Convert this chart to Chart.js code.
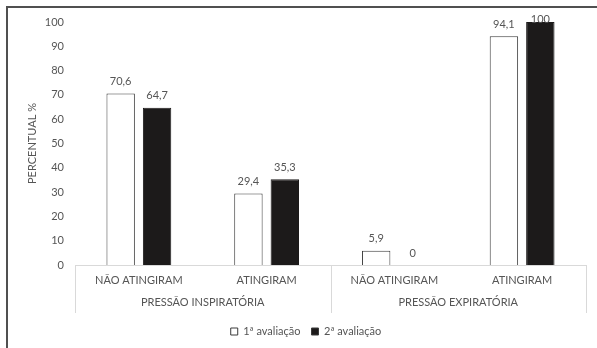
<!DOCTYPE html>
<html>
<head>
<meta charset="utf-8">
<script src="https://cdn.jsdelivr.net/npm/chart.js@4/dist/chart.umd.min.js"></script>
<style>
  html, body { margin: 0; padding: 0; background: #fff; }
  #wrap { width: 597px; height: 348px; position: relative; }
</style>
</head>
<body>
<div id="wrap"><canvas id="c" width="597" height="348"></canvas></div>
<script>
// Outcome categories, grouped by respiratory pressure measure
const categories = ['NÃO ATINGIRAM', 'ATINGIRAM', 'NÃO ATINGIRAM', 'ATINGIRAM'];
const groups = ['PRESSÃO INSPIRATÓRIA', 'PRESSÃO EXPIRATÓRIA'];
const seriesNames = ['1ª avaliação', '2ª avaliação'];
const firstEval = [70.6, 29.4, 5.9, 94.1];
const secondEval = [64.7, 35.3, 0, 100];
const yTicks = [0, 10, 20, 30, 40, 50, 60, 70, 80, 90, 100];

const TEXT = '#555555';
const FONT = 'Lato, "Liberation Sans", sans-serif';
const AXIS_LINE = '#d9d9d9';

const fmt = v => String(v).replace('.', ',');

// Frame, value labels and the two-level category box
const decorations = {
  id: 'decorations',
  beforeDraw(chart) {
    const ctx = chart.ctx;
    ctx.save();
    ctx.fillStyle = '#fff';
    ctx.fillRect(0, 0, chart.width, chart.height);
    ctx.strokeStyle = '#505050';
    ctx.lineWidth = 2;
    ctx.beginPath();
    ctx.moveTo(7, chart.height);
    ctx.lineTo(7, 7);
    ctx.lineTo(chart.width, 7);
    ctx.stroke();
    ctx.restore();
  },
  afterDraw(chart) {
    const ctx = chart.ctx;
    const x = chart.scales.x;
    const area = chart.chartArea;
    ctx.save();
    // value labels
    ctx.font = '11px ' + FONT;
    ctx.fillStyle = TEXT;
    ctx.textAlign = 'center';
    ctx.textBaseline = 'middle';
    chart.data.datasets.forEach((ds, di) => {
      chart.getDatasetMeta(di).data.forEach((bar, i) => {
        const y = Math.max(bar.y - 12, area.top - 3);
        ctx.fillText(fmt(ds.data[i]), bar.x, y);
      });
    });
    // category box separators
    const half = (x.getPixelForValue(1) - x.getPixelForValue(0)) / 2;
    const boxBottom = area.bottom + 48;
    ctx.strokeStyle = AXIS_LINE;
    ctx.lineWidth = 1;
    const seps = [x.getPixelForValue(0) - half, x.getPixelForValue(2) - half, x.getPixelForValue(3) + half];
    seps.forEach(px => {
      const p = Math.round(px) + 0.5;
      ctx.beginPath();
      ctx.moveTo(p, area.bottom);
      ctx.lineTo(p, boxBottom);
      ctx.stroke();
    });
    // group labels
    ctx.fillStyle = TEXT;
    groups.forEach((g, gi) => {
      const cx = (x.getPixelForValue(gi * 2) + x.getPixelForValue(gi * 2 + 1)) / 2;
      ctx.fillText(g, cx, area.bottom + 37);
    });
    ctx.restore();
  }
};

new Chart(document.getElementById('c'), {
  type: 'bar',
  data: {
    labels: categories,
    datasets: [
      {
        label: seriesNames[0],
        data: firstEval,
        backgroundColor: '#ffffff',
        borderColor: '#3a3a3a',
        borderWidth: 1,
        categoryPercentage: 0.57,
        barPercentage: 0.78
      },
      {
        label: seriesNames[1],
        data: secondEval,
        backgroundColor: '#1c1a1a',
        borderColor: '#1c1a1a',
        borderWidth: 1,
        categoryPercentage: 0.57,
        barPercentage: 0.78
      }
    ]
  },
  options: {
    responsive: false,
    animation: false,
    devicePixelRatio: 1,
    layout: { padding: { left: 26, right: 11, top: 22, bottom: 1 } },
    plugins: {
      tooltip: { enabled: false },
      legend: {
        position: 'bottom',
        labels: {
          color: TEXT,
          font: { family: FONT, size: 11 },
          boxWidth: 7,
          boxHeight: 7,
          padding: 11,
          generateLabels(chart) {
            return chart.data.datasets.map((ds, i) => ({
              text: ds.label,
              fillStyle: ds.backgroundColor,
              strokeStyle: '#3a3a3a',
              lineWidth: 1,
              fontColor: TEXT,
              datasetIndex: i
            }));
          }
        }
      }
    },
    scales: {
      x: {
        grid: { display: false },
        border: { display: true, color: AXIS_LINE, width: 1 },
        ticks: { color: TEXT, font: { family: FONT, size: 11 }, padding: 1, maxRotation: 0 },
        afterFit(scale) { scale.height = 50; }
      },
      y: {
        min: 0,
        max: 100,
        afterBuildTicks(scale) { scale.ticks = yTicks.map(v => ({ value: v })); },
        grid: { display: false },
        border: { display: false },
        ticks: { color: TEXT, font: { family: FONT, size: 11 }, padding: 3 },
        title: {
          display: true,
          text: 'PERCENTUAL %',
          color: TEXT,
          font: { family: FONT, size: 11 },
          padding: { top: 0, bottom: 0 }
        },
        afterFit(scale) { scale.width = 49; }
      }
    }
  },
  plugins: [decorations]
});
</script>
</body>
</html>
